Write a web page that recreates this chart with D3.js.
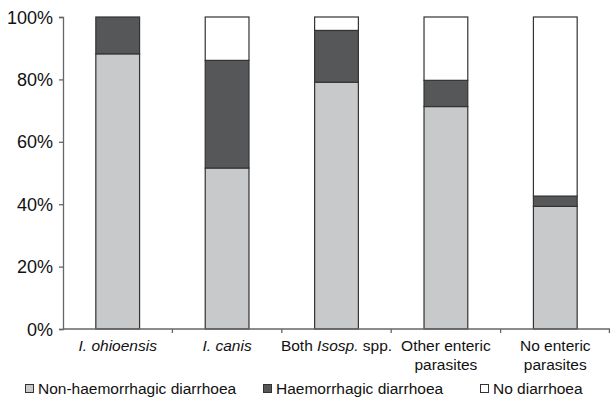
<!DOCTYPE html>
<html>
<head>
<meta charset="utf-8">
<script src="https://cdn.jsdelivr.net/npm/d3@7"></script>
<style>
  html, body { margin: 0; padding: 0; background: #fff; }
  svg { display: block; font-family: Arial, "Liberation Sans", Helvetica, sans-serif; }
</style>
</head>
<body>
<svg id="chart" width="611" height="401"></svg>
<script>
// Category labels: each is a list of lines, each line a list of [text, italic] runs
const categories = ["I. ohioensis", "I. canis", "Both Isosp. spp.", "Other enteric parasites", "No enteric parasites"];
const categoryLines = [
  [[["I. ohioensis", true]]],
  [[["I. canis", true]]],
  [[["Both ", false], ["Isosp.", true], [" spp.", false]]],
  [[["Other enteric", false]], [["parasites", false]]],
  [[["No enteric", false]], [["parasites", false]]]
];
const seriesNames = ["Non-haemorrhagic diarrhoea", "Haemorrhagic diarrhoea", "No diarrhoea"];
// Percentages per category
const nonHaemorrhagic = [88.2, 51.6, 79.1, 71.3, 39.3];
const haemorrhagic    = [11.8, 34.5, 16.6, 8.4, 3.3];
const noDiarrhoea     = [0.0, 13.9, 4.3, 20.3, 57.4];
const yTicks = [0, 20, 40, 60, 80, 100];
const colors = ["#c8c9cb", "#555759", "#ffffff"];

const svg = d3.select("#chart");
const margin = { left: 63, right: 1, top: 17, bottom: 72 };
const W = 611, H = 401;

const x = d3.scaleBand().domain(categories).range([margin.left, W - margin.right]).paddingInner(0.6).paddingOuter(0.3);
const y = d3.scaleLinear().domain([0, 100]).range([H - margin.bottom, margin.top]);

const table = categories.map((c, i) => ({ cat: c, s0: nonHaemorrhagic[i], s1: haemorrhagic[i], s2: noDiarrhoea[i] }));
const stacked = d3.stack().keys(["s0", "s1", "s2"])(table);

// Stacked bars
svg.append("g").selectAll("g").data(stacked).join("g")
  .attr("fill", (d, i) => colors[i])
  .selectAll("rect").data(d => d.filter(p => p[1] - p[0] > 0)).join("rect")
  .attr("x", d => x(d.data.cat))
  .attr("width", x.bandwidth())
  .attr("y", d => y(d[1]))
  .attr("height", d => y(d[0]) - y(d[1]))
  .attr("stroke", "#333")
  .attr("stroke-width", 1.2);

// Y axis
const yAxis = d3.axisLeft(y).tickValues(yTicks).tickFormat(d => d + "%").tickSize(4).tickPadding(6);
const gy = svg.append("g").attr("transform", `translate(${margin.left},0)`).call(yAxis);
gy.select(".domain").attr("stroke", "#666").attr("stroke-width", 1.3);
gy.selectAll(".tick line").attr("stroke", "#666").attr("stroke-width", 1.3);
gy.selectAll(".tick text").attr("font-size", 18).attr("fill", "#111").attr("font-family", "Arial, 'Liberation Sans', sans-serif").attr("dy", "0.34em");

// X axis: line with tick marks at band boundaries
const x0 = margin.left, x1 = W - margin.right, y0 = y(0);
const gx = svg.append("g");
gx.append("line").attr("x1", x0).attr("x2", x1).attr("y1", y0).attr("y2", y0)
  .attr("stroke", "#666").attr("stroke-width", 1.3);
const step = x.step();
const boundaries = categories.map((c, i) => x(c) + x.bandwidth() + step * x.paddingInner() / 2);
gx.selectAll("line.tk").data(boundaries).join("line").attr("class", "tk")
  .attr("x1", d => Math.min(d, x1 - 0.6)).attr("x2", d => Math.min(d, x1 - 0.6))
  .attr("y1", y0).attr("y2", y0 + 4)
  .attr("stroke", "#666").attr("stroke-width", 1.3);

// Category labels
categoryLines.forEach((lines, i) => {
  const cx = x(categories[i]) + x.bandwidth() / 2;
  lines.forEach((runs, li) => {
    const t = svg.append("text")
      .attr("x", cx).attr("y", y0 + 22 + li * 19)
      .attr("text-anchor", "middle").attr("font-size", 15.5).attr("fill", "#111");
    runs.forEach(r => t.append("tspan").attr("font-style", r[1] ? "italic" : "normal").text(r[0]));
  });
});

// Legend
const legendPos = [25, 263, 480];
const lg = svg.append("g");
seriesNames.forEach((name, i) => {
  lg.append("rect").attr("x", legendPos[i] + 0.5).attr("y", 384.5).attr("width", 8).attr("height", 8)
    .attr("fill", colors[i]).attr("stroke", "#333").attr("stroke-width", 1);
  lg.append("text").attr("x", legendPos[i] + 13).attr("y", 394)
    .attr("font-size", 15.5).attr("fill", "#111").text(name);
});
</script>
</body>
</html>
